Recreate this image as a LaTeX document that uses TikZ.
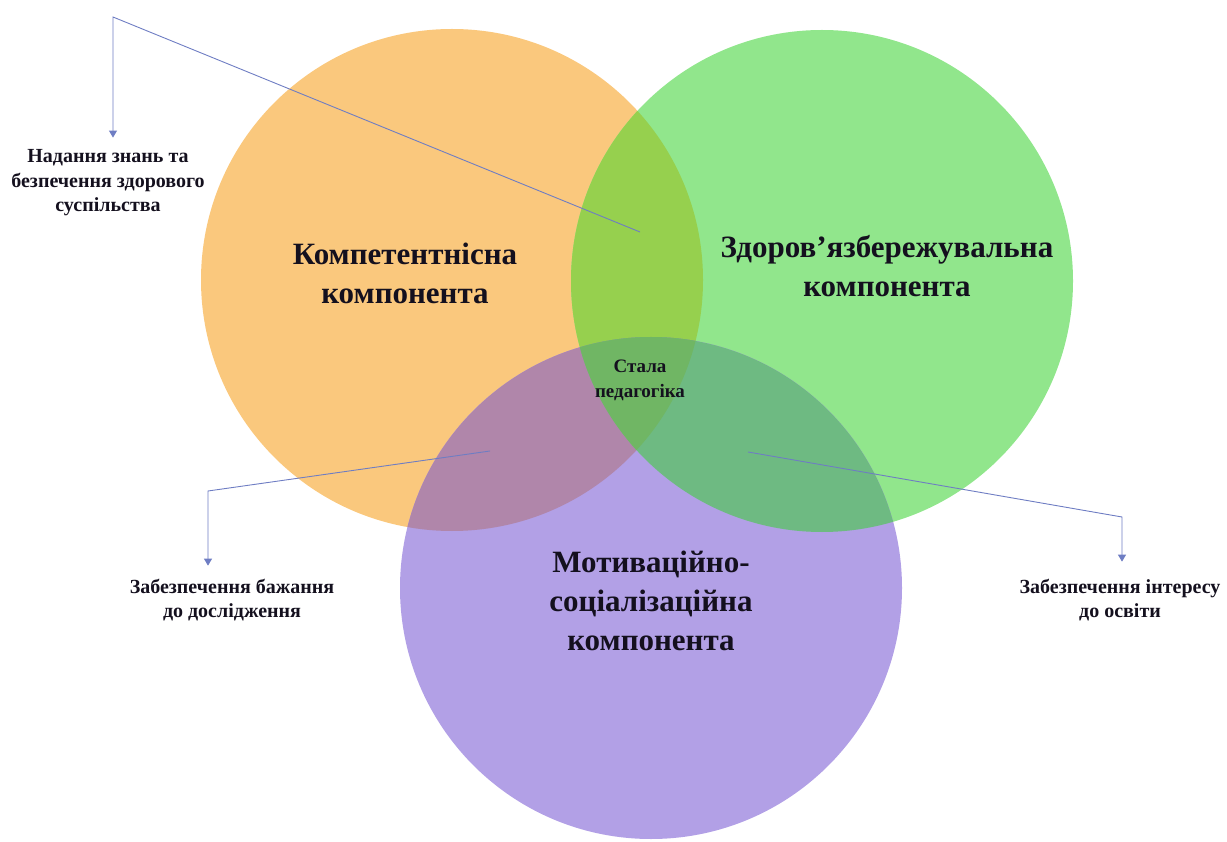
\documentclass[tikz,border=0pt]{standalone}
\usepackage{fontspec}
\setmainfont{Liberation Serif}
\usetikzlibrary{arrows.meta}
\definecolor{corange}{RGB}{250,200,125}
\definecolor{cgreen}{RGB}{145,230,140}
\definecolor{cpurple}{RGB}{178,160,230}
\definecolor{cog}{RGB}{150,208,78}
\definecolor{cop}{RGB}{176,134,170}
\definecolor{cgp}{RGB}{110,186,130}
\definecolor{call}{RGB}{112,182,100}
\definecolor{cline}{RGB}{110,125,195}
\definecolor{ctext}{RGB}{20,16,30}
\begin{document}
\begin{tikzpicture}[x=1pt,y=-1pt,
  big/.style={font=\fontsize{31}{39}\selectfont\bfseries, align=center, text=ctext, inner sep=0pt},
  small/.style={font=\fontsize{20}{24.5}\selectfont\bfseries, align=center, text=ctext, inner sep=0pt},
  tiny/.style={font=\fontsize{19}{25}\selectfont\bfseries, align=center, text=ctext, inner sep=0pt},
  callout/.style={draw=cline, line width=0.9pt, -{Triangle[width=8pt,length=7pt]}}]
\useasboundingbox (0,0) rectangle (1227,842);
\coordinate (O) at (452,280);
\coordinate (G) at (822,281);
\coordinate (P) at (651,588);
\def\R{251}
% circles
\fill[corange] (O) circle (\R);
\fill[cgreen] (G) circle (\R);
\fill[cpurple] (P) circle (\R);
% pairwise overlaps
\begin{scope}\clip (O) circle (\R); \fill[cog] (G) circle (\R); \end{scope}
\begin{scope}\clip (O) circle (\R); \fill[cop] (P) circle (\R); \end{scope}
\begin{scope}\clip (G) circle (\R); \fill[cgp] (P) circle (\R); \end{scope}
\begin{scope}\clip (O) circle (\R); \clip (G) circle (\R); \fill[call] (P) circle (\R); \end{scope}
% labels
\node[big] (comp) at (405,273) {Компетентнісна\\компонента};
\node[big] (zdor) at (887,266) {Здоров’язбережувальна\\компонента};
\node[big] (motiv) at (651,601) {Мотиваційно-\\соціалізаційна\\компонента};
\node[tiny] (stala) at (640,380) {Стала\\педагогіка};
\node[small] (t1) at (108,183) {Надання знань та\\безпечення здорового\\суспільства};
\node[small] (t2) at (232,600) {Забезпечення бажання\\до дослідження};
\node[small] (t3) at (1120,600) {Забезпечення інтересу\\до освіти};
% callouts
\coordinate (s1) at (640,232);
\coordinate (k1) at (113,17);
\coordinate (s2) at (490,451);
\coordinate (k2) at (208,491);
\coordinate (s3) at (748,452);
\coordinate (k3) at (1122,517);
\draw[callout] (s1) -- (k1) -- (k1 |- t1.north) [shorten >=12pt];
\draw[callout] (s2) -- (k2) -- (k2 |- t2.north) [shorten >=13pt];
\draw[callout] (s3) -- (k3) -- (k3 |- t3.north) [shorten >=17pt];
\end{tikzpicture}
\end{document}
